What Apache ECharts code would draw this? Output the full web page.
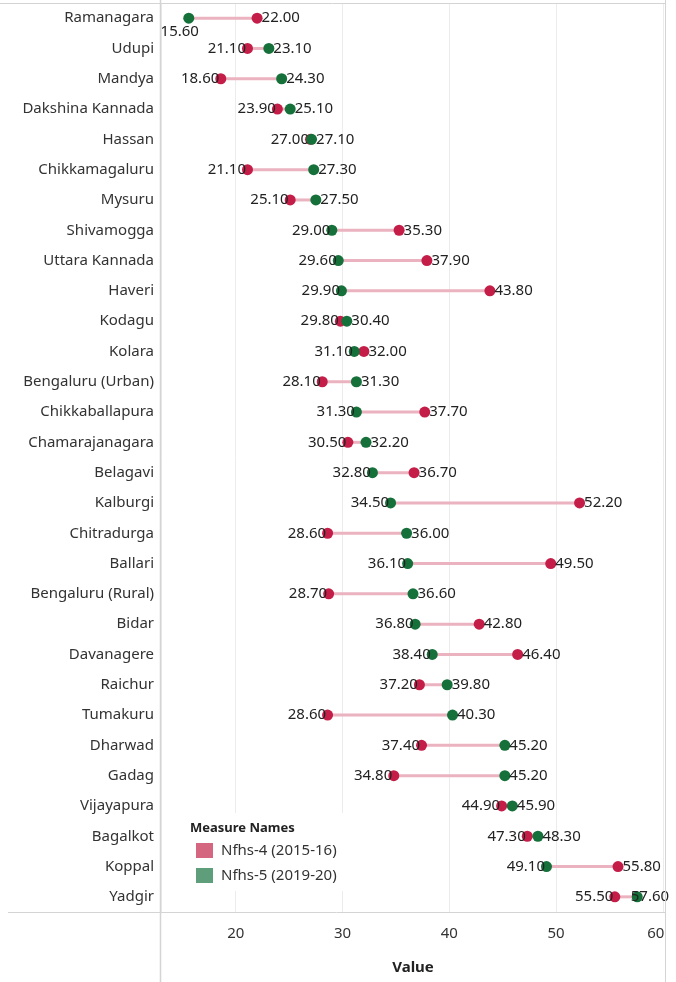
<!DOCTYPE html>
<html>
<head>
<meta charset="utf-8">
<script src="https://cdn.jsdelivr.net/npm/echarts@6/dist/echarts.min.js"></script>
<style>
html,body{margin:0;padding:0;background:#fff;}
#chart{width:676px;height:982px;}
</style>
</head>
<body>
<div id="chart"></div>
<script>
const categories = ["Ramanagara","Udupi","Mandya","Dakshina Kannada","Hassan","Chikkamagaluru","Mysuru","Shivamogga","Uttara Kannada","Haveri","Kodagu","Kolara","Bengaluru (Urban)","Chikkaballapura","Chamarajanagara","Belagavi","Kalburgi","Chitradurga","Ballari","Bengaluru (Rural)","Bidar","Davanagere","Raichur","Tumakuru","Dharwad","Gadag","Vijayapura","Bagalkot","Koppal","Yadgir"];
const nfhs4 = [22.00,21.10,18.60,23.90,27.00,21.10,25.10,35.30,37.90,43.80,29.80,32.00,28.10,37.70,30.50,36.70,52.20,28.60,49.50,28.70,42.80,46.40,37.20,28.60,37.40,34.80,44.90,47.30,55.80,55.50];
const nfhs5 = [15.60,23.10,24.30,25.10,27.10,27.30,27.50,29.00,29.60,29.90,30.40,31.10,31.30,31.30,32.20,32.80,34.50,36.00,36.10,36.60,36.80,38.40,39.80,40.30,45.20,45.20,45.90,48.30,49.10,57.60];
const seriesNames = ["Nfhs-4 (2015-16)","Nfhs-5 (2019-20)"];
const xTicks = [20,30,40,50,60];

const RED = '#c41e48', GREEN = '#15703a';
const FONT = 'Noto Sans';

function labelCfg(v, other, i, isGreen) {
  if (isGreen && i === 0) {
    return {position:'bottom', distance:1, offset:[-9,0]};
  }
  if (v < other) return {position:'left', distance:-4};
  if (i === categories.length - 1) return {position:'right', distance:-12};
  return {position:'right', distance:-1};
}

const redData = categories.map((c,i)=>({value:[nfhs4[i], c], label: labelCfg(nfhs4[i], nfhs5[i], i, false)}));
const greenData = categories.map((c,i)=>({value:[nfhs5[i], c], label: labelCfg(nfhs5[i], nfhs4[i], i, true)}));
const connData = categories.map((c,i)=>[i, nfhs4[i], nfhs5[i]]);

const chart = echarts.init(document.getElementById('chart'), null, {renderer:'canvas'});
const lineColor = '#d4d4d4';
chart.setOption({
  animation:false,
  textStyle:{fontFamily:FONT},
  grid:{left:161, right:11, top:3, bottom:70, containLabel:false},
  xAxis:{
    type:'value', min:13, max:60.2,
    name:'Value', nameLocation:'middle', nameGap:48,
    nameTextStyle:{fontWeight:'bold', fontSize:15, color:'#222', fontFamily:FONT},
    axisLine:{show:false}, axisTick:{show:false},
    axisLabel:{fontSize:15, color:'#333', margin:14, fontFamily:FONT,
      formatter:function(v){ if(xTicks.indexOf(v)<0) return ''; return v===60?'{r|60}':String(v);},
      rich:{r:{fontSize:15,color:'#333',fontFamily:FONT,padding:[0,14,0,0]}}},
    splitLine:{show:true, lineStyle:{color:'#ececec', width:1}}
  },
  yAxis:{
    type:'category', data:categories, inverse:true,
    axisLine:{show:false}, axisTick:{show:false}, splitLine:{show:false},
    axisLabel:{fontSize:15, color:'#333', margin:7, fontFamily:FONT}
  },
  legend:{
    orient:'vertical', left:191, top:838, itemWidth:17, itemHeight:15, itemGap:10,
    icon:'rect', z:10,
    textStyle:{fontSize:15, color:'#333', fontFamily:FONT, padding:[0,0,0,3]},
    data:[{name:seriesNames[0], itemStyle:{color:'#d4667f'}},{name:seriesNames[1], itemStyle:{color:'#5f9e7a'}}]
  },
  graphic:[
    {type:'rect', z:5, shape:{x:183, y:813, width:162, height:78}, style:{fill:'#fff'}},
    {type:'text', z:11, left:190, top:822, style:{text:'Measure Names', font:'bold 13px "Noto Sans"', fill:'#222'}},
    {type:'line', z:6, shape:{x1:0,y1:3.5,x2:665,y2:3.5}, style:{stroke:lineColor, lineWidth:1}},
    {type:'line', z:6, shape:{x1:8,y1:912.5,x2:665,y2:912.5}, style:{stroke:lineColor, lineWidth:1}},
    {type:'line', z:6, shape:{x1:160.5,y1:0,x2:160.5,y2:982}, style:{stroke:lineColor, lineWidth:1.5}},
    {type:'line', z:6, shape:{x1:665.5,y1:0,x2:665.5,y2:982}, style:{stroke:lineColor, lineWidth:1}}
  ],
  series:[
    {
      type:'custom', name:'conn', silent:true, z:2,
      encode:{x:[1,2], y:0},
      data:connData,
      renderItem:function(params, api){
        const p1 = api.coord([api.value(1), api.value(0)]);
        const p2 = api.coord([api.value(2), api.value(0)]);
        return {type:'line', shape:{x1:p1[0], y1:p1[1], x2:p2[0], y2:p2[1]}, style:{stroke:'#ebb2c0', lineWidth:3}};
      }
    },
    {
      type:'scatter', name:seriesNames[0], z:3, symbolSize:11,
      itemStyle:{color:RED, opacity:1},
      label:{show:true, fontSize:15, color:'#222', fontFamily:FONT, formatter:p=>p.value[0].toFixed(2)},
      data:redData
    },
    {
      type:'scatter', name:seriesNames[1], z:4, symbolSize:11,
      itemStyle:{color:GREEN, opacity:1},
      label:{show:true, fontSize:15, color:'#222', fontFamily:FONT, formatter:p=>p.value[0].toFixed(2)},
      data:greenData
    }
  ]
});
</script>
</body>
</html>
